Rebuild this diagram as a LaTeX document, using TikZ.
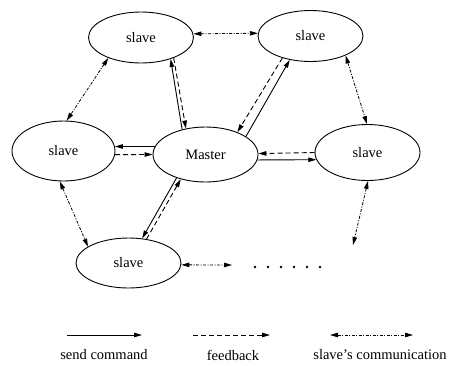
\documentclass[tikz,border=0pt]{standalone}
\usepackage{fontspec}
\setmainfont{Liberation Serif}
\usetikzlibrary{shapes.geometric,arrows.meta}
\begin{document}
\begin{tikzpicture}[x=1pt,y=-1pt,
  ell/.style={draw,ellipse,line width=0.9pt,minimum width=105pt,inner sep=0pt,font=\fontsize{14.5}{16}\selectfont},
  tip/.style={Triangle[length=8pt,width=4.5pt]},
  cmd/.style={line width=0.9pt,-{Triangle[length=8pt,width=4.5pt]}},
  fb/.style={line width=0.9pt,dash pattern=on 5pt off 3pt,-{Triangle[length=8pt,width=4.5pt]}},
  comm/.style={line width=0.8pt,dash pattern=on 3pt off 1.5pt on 1pt off 1.5pt,{Triangle[length=8pt,width=4.5pt]}-{Triangle[length=8pt,width=4.5pt]}},
  lab/.style={font=\fontsize{14.5}{16}\selectfont,inner sep=0pt}]
\useasboundingbox (0,0) rectangle (452,365);
\node[ell,minimum height=51pt] (tl) at (141,37.5) {slave};
\node[ell,minimum height=51pt] (tr) at (310.5,36) {slave};
\node[ell,minimum height=60pt,minimum width=103pt] (l) at (63.5,151) {slave};
\node[ell,minimum height=55pt] (m) at (205.5,154.5) {Master};
\node[ell,minimum height=56pt] (r) at (367.5,152.5) {slave};
\node[ell,minimum height=50pt] (b) at (128.5,263) {slave};
% slave communication
\draw[comm] (tl.4) -- (tr.177);
\draw[comm] (tl.212) -- (l.84);
\draw[comm] (tr.-29) -- (r.91);
\draw[comm] (l.263) -- (b.158);
\coordinate (bend) at (232,265);
\draw[comm] (b.-2) -- (bend);
\coordinate (rend) at (353,245);
\draw[comm] (r.-89) -- (rend);
% master - top left
\draw[cmd] (m.133) -- (tl.-36);
\draw[fb] (tl.-32) -- (m.127);
% master - top right
\draw[fb] (tr.218) -- (m.35);
\draw[cmd] (m.24) -- (tr.229);
% master - left
\draw[cmd] (m.171) -- (l.5.5);
\draw[fb] (l.-4.4) -- (m.180.5);
% master - right
\draw[fb] (r.180.5) -- (m.1.6);
\draw[cmd] (m.-6) -- (r.188);
% master - bottom
\draw[cmd] (m.219) -- (b.61);
\draw[fb] (b.53.5) -- (m.225);
% dots
\foreach \i in {0,...,5} \fill (255+13*\i,267) circle (1.3pt);
% legend
\coordinate (s1) at (67,335); \coordinate (s2) at (142,335);
\coordinate (f1) at (193,335); \coordinate (f2) at (270,335);
\coordinate (c1) at (330,335); \coordinate (c2) at (413,335);
\draw[cmd] (s1) -- (s2);
\draw[fb] (f1) -- (f2);
\draw[comm] (c1) -- (c2);
\node[lab] (ls) at (104,355) {send command};
\node[lab] (lf) at (233,355) {feedback};
\node[lab] (lc) at (380,355) {slave's communication};
\end{tikzpicture}
\end{document}
